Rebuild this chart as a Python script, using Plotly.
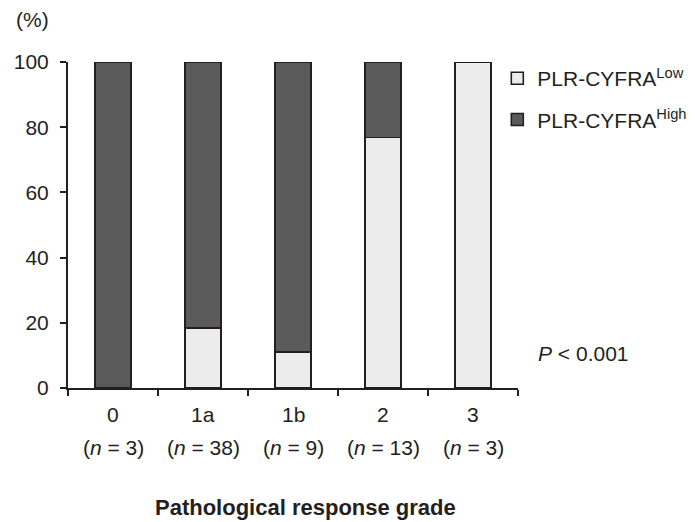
import plotly.graph_objects as go

grades = ["0", "1a", "1b", "2", "3"]
n_counts = [3, 38, 9, 13, 3]
low_pct = [0, 18.4, 11.1, 76.9, 100]
high_pct = [100, 81.6, 88.9, 23.1, 0]
y_ticks = [0, 20, 40, 60, 80, 100]

FONT = "Liberation Sans, Arial, sans-serif"
INK = "#231f20"
FS = 21

xpos = [i + 0.5 for i in range(len(grades))]

fig = go.Figure()
fig.add_trace(go.Bar(
    x=xpos, y=low_pct, width=0.4, name="PLR-CYFRA<sup>Low</sup>",
    marker=dict(color="#ececec", line=dict(color=INK, width=1.6)),
    legendgroup="low",
))
fig.add_trace(go.Bar(
    x=xpos, y=high_pct, width=0.4, name="PLR-CYFRA<sup>High</sup>",
    marker=dict(color="#5a5a5a", line=dict(color=INK, width=1.6)),
    legendgroup="high",
))

annotations = []
for x, g, n in zip(xpos, grades, n_counts):
    annotations.append(dict(x=x, y=-0.08, xref="x", yref="paper", text=g,
                            xanchor="center", yanchor="middle",
                            showarrow=False, font=dict(size=FS, color=INK, family=FONT)))
    annotations.append(dict(x=x, y=-0.184, xref="x", yref="paper",
                            text=f"(<i>n</i> = {n})", xanchor="center", yanchor="middle",
                            showarrow=False, font=dict(size=FS, color=INK, family=FONT)))

annotations.append(dict(x=0.527, y=-0.368, xref="paper", yref="paper",
                        xanchor="center", yanchor="middle",
                        text="<b>Pathological response grade</b>", showarrow=False,
                        font=dict(size=22, color=INK, family=FONT)))
annotations.append(dict(x=-0.08, y=1.129, xref="paper", yref="paper",
                        xanchor="center", yanchor="middle",
                        text="(%)", showarrow=False,
                        font=dict(size=FS, color=INK, family=FONT)))
annotations.append(dict(x=1.04, y=0.107, xref="paper", yref="paper",
                        xanchor="left", yanchor="middle",
                        text="<i>P</i> < 0.001", showarrow=False,
                        font=dict(size=FS, color=INK, family=FONT)))

fig.update_layout(
    width=695, height=522,
    margin=dict(l=68, r=177, t=62, b=134, autoexpand=False),
    paper_bgcolor="white", plot_bgcolor="white",
    barmode="stack",
    font=dict(family=FONT, size=FS, color=INK),
    showlegend=True,
    legend=dict(x=0.954, y=1.012, xanchor="left", yanchor="top",
                traceorder="grouped", tracegroupgap=11,
                font=dict(size=FS, color=INK, family=FONT),
                itemwidth=30, bgcolor="rgba(0,0,0,0)"),
    annotations=annotations,
    xaxis=dict(range=[0, 5], tickvals=[0, 1, 2, 3, 4, 5], showticklabels=False,
               ticks="outside", ticklen=6, tickwidth=2, tickcolor=INK,
               showline=True, linecolor=INK, linewidth=2, showgrid=False,
               zeroline=False, fixedrange=True),
    yaxis=dict(range=[0, 100], tickvals=y_ticks, ticks="outside", ticklen=6,
               tickwidth=2, tickcolor=INK, showline=True, linecolor=INK,
               linewidth=2, showgrid=False, zeroline=False,
               tickfont=dict(size=FS, color=INK, family=FONT),
               ticklabelstandoff=7),
)

fig.write_html("out.html", config={"displayModeBar": False},
               post_script="document.body.style.margin='0px';")
